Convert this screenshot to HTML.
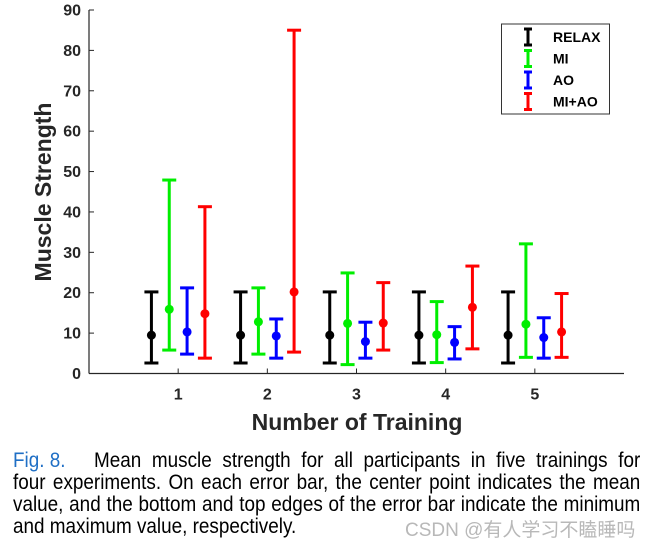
<!DOCTYPE html>
<html><head><meta charset="utf-8"><style>
body{margin:0;background:#fff;width:652px;height:548px;overflow:hidden;position:relative;font-family:"Liberation Sans",sans-serif}
.cap{position:absolute;left:13px;width:697px;font-size:21px;color:#000;white-space:nowrap;text-align:justify;text-align-last:justify;line-height:22px;transform:scaleX(0.9);transform-origin:0 0}
</style></head><body>
<svg id="chart" width="652" height="440" style="position:absolute;left:0;top:0" font-family="Liberation Sans, sans-serif"></svg>
<div class="cap" style="top:450px"><span style="color:#1f6fc5;display:inline-block;width:90px;text-align:left;text-align-last:left">Fig. 8.</span>Mean muscle strength for all participants in five trainings for</div>
<div class="cap" style="top:472px">four experiments. On each error bar, the center point indicates the mean</div>
<div class="cap" style="top:494px">value, and the bottom and top edges of the error bar indicate the minimum</div>
<div class="cap" style="top:516px;text-align-last:left">and maximum value, respectively.</div>
<div style="position:absolute;left:405px;top:515px;font-size:19px;color:#b8b8b8;font-family:'Liberation Sans','Noto Sans CJK SC',sans-serif;white-space:nowrap">CSDN @有人学习不瞌睡吗</div>
<script>
const categories=[1,2,3,4,5];
const seriesNames=["RELAX","MI","AO","MI+AO"];
const seriesColors=["#000000","#00ee00","#0000ff","#ff0000"];
const meanRELAX=[9.5,9.5,9.5,9.5,9.5];
const minRELAX=[2.6,2.6,2.6,2.6,2.6];
const maxRELAX=[20.2,20.2,20.2,20.2,20.2];
const meanMI=[15.9,12.8,12.4,9.6,12.2];
const minMI=[5.8,4.8,2.2,2.7,4.0];
const maxMI=[47.9,21.2,24.9,17.8,32.1];
const meanAO=[10.3,9.3,7.9,7.7,8.9];
const minAO=[4.8,3.8,3.8,3.6,3.8];
const maxAO=[21.2,13.5,12.7,11.6,13.8];
const meanMIAO=[14.8,20.2,12.5,16.4,10.3];
const minMIAO=[3.8,5.3,5.8,6.1,4.0];
const maxMIAO=[41.3,85,22.5,26.6,19.8];
const yTicks=[0,10,20,30,40,50,60,70,80,90];
const offsets=[-0.3,-0.1,0.1,0.3];
const means=[meanRELAX,meanMI,meanAO,meanMIAO],mins=[minRELAX,minMI,minAO,minMIAO],maxs=[maxRELAX,maxMI,maxAO,maxMIAO];
const svg=document.getElementById('chart');const NS='http://www.w3.org/2000/svg';
const x0=89,x1=624,yb=373.5,yt=10;
const X=v=>x0+(v-0)/(6-0)*(x1-x0);
const Y=v=>yb-(v/90)*(yb-yt);
function mk(t,a,p){const e=document.createElementNS(NS,t);for(const k in a)e.setAttribute(k,a[k]);(p||svg).appendChild(e);return e;}
let e;
e=mk('line',{x1:x0,y1:yt,x2:x0,y2:yb,stroke:'#262626','stroke-width':1.2});


e=mk('line',{x1:x0,y1:yb,x2:x1,y2:yb,stroke:'#262626','stroke-width':1.2});


yTicks.forEach(v=>{
 e=mk('line',{x1:x0,y1:Y(v),x2:x0+5,y2:Y(v),stroke:'#262626','stroke-width':1});
 
 
 e=mk('text',{x:x0-8,y:Y(v)+5.5,'text-anchor':'end','font-size':16,'font-weight':'bold',fill:'#262626'});
 e.textContent=v;
 
 
});
categories.forEach(c=>{
 e=mk('line',{x1:X(c),y1:yb,x2:X(c),y2:yb-5,stroke:'#262626','stroke-width':1});
 
 
 e=mk('text',{x:X(c),y:yb+26,'text-anchor':'middle','font-size':16,'font-weight':'bold',fill:'#262626'});
 e.textContent=c;
 
 
});
e=mk('text',{x:357,y:430,'text-anchor':'middle','font-size':23,'font-weight':'bold',fill:'#262626'});
e.textContent='Number of Training';


e=mk('text',{x:0,y:0,transform:'translate(51,192) rotate(-90)','text-anchor':'middle','font-size':23,'font-weight':'bold',fill:'#262626'});
e.textContent='Muscle Strength';


means.forEach((m,s)=>{
 const col=seriesColors[s];
 categories.forEach((c,i)=>{
  const g=mk('g',{stroke:col,'stroke-width':3,fill:col});
  
  
  const cx=X(c+offsets[s]);
  mk('line',{x1:cx,y1:Y(mins[s][i]),x2:cx,y2:Y(maxs[s][i])},g);
  mk('line',{x1:cx-7,y1:Y(mins[s][i]),x2:cx+7,y2:Y(mins[s][i])},g);
  mk('line',{x1:cx-7,y1:Y(maxs[s][i]),x2:cx+7,y2:Y(maxs[s][i])},g);
  mk('circle',{cx:cx,cy:Y(m[i]),r:4.5,stroke:'none'},g);
 });
});
const lg=mk('g',{});


mk('rect',{x:501.5,y:24,width:108,height:90,fill:'#fff',stroke:'#333','stroke-width':1},lg);
seriesNames.forEach((n,s)=>{
 const yy=37+s*21.5;
 const g=mk('g',{stroke:seriesColors[s],'stroke-width':3},lg);
 
 
 mk('line',{x1:528,y1:yy-8,x2:528,y2:yy+8},g);
 mk('line',{x1:524,y1:yy-8,x2:532,y2:yy-8},g);
 mk('line',{x1:524,y1:yy+8,x2:532,y2:yy+8},g);
 const t=mk('text',{x:553,y:yy+5,'font-size':14,'font-weight':'bold',fill:'#000',stroke:'none'},g);
 t.textContent=n;
});
</script>
</body></html>
